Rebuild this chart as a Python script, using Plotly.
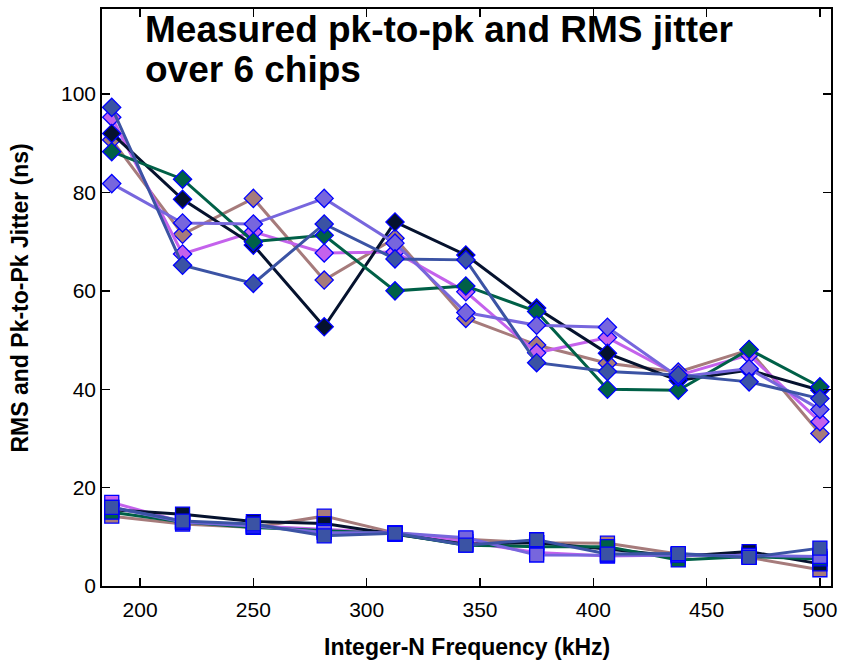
import plotly.graph_objects as go

freq_khz = [187.5, 218.75, 250, 281.25, 312.5, 343.75, 375, 406.25, 437.5, 468.75, 500]

chips = ["chip1", "chip2", "chip3", "chip4", "chip5", "chip6"]
colors = ["#a67b7b", "#c462ec", "#05122e", "#006047", "#7766dd", "#3b53a4"]

pk_chip1 = [90.7, 71.5, 78.8, 62.2, 70.7, 54.4, 49.0, 45.3, 43.5, 48.0, 31.0]
pk_chip2 = [95.3, 67.5, 72.0, 67.7, 67.9, 59.8, 47.4, 50.5, 42.8, 47.0, 33.4]
pk_chip3 = [92.0, 78.6, 69.3, 52.7, 74.0, 67.3, 56.5, 47.3, 41.8, 43.9, 39.8]
pk_chip4 = [88.3, 82.7, 70.0, 71.3, 60.0, 61.0, 55.8, 40.0, 39.8, 48.1, 40.5]
pk_chip5 = [81.8, 73.8, 73.6, 78.8, 69.7, 55.6, 53.0, 52.6, 42.5, 44.2, 35.9]
pk_chip6 = [97.3, 65.2, 61.5, 73.6, 66.5, 66.3, 45.4, 43.6, 42.9, 41.5, 38.1]

rms_chip1 = [14.2, 12.6, 11.9, 14.2, 10.8, 9.5, 8.8, 8.7, 6.5, 5.8, 3.3]
rms_chip2 = [17.0, 13.0, 12.2, 11.5, 10.8, 9.0, 6.8, 6.1, 6.3, 6.5, 5.5]
rms_chip3 = [15.5, 14.6, 13.1, 12.7, 10.5, 8.5, 8.8, 7.5, 6.0, 7.0, 4.5]
rms_chip4 = [15.0, 13.0, 11.9, 11.2, 10.6, 8.3, 8.0, 8.0, 5.3, 6.0, 5.5]
rms_chip5 = [16.0, 13.0, 12.2, 10.9, 10.8, 9.8, 6.3, 6.3, 6.3, 6.2, 6.0]
rms_chip6 = [16.0, 13.2, 12.6, 10.2, 10.7, 8.3, 9.4, 6.5, 6.6, 5.8, 7.7]

pk_all = [pk_chip1, pk_chip2, pk_chip3, pk_chip4, pk_chip5, pk_chip6]
rms_all = [rms_chip1, rms_chip2, rms_chip3, rms_chip4, rms_chip5, rms_chip6]

x_ticks = [200, 250, 300, 350, 400, 450, 500]
y_ticks = [0, 20, 40, 60, 80, 100]

title_lines = ["Measured pk-to-pk and RMS jitter", "over 6 chips"]
x_title = "Integer-N Frequency (kHz)"
y_title = "RMS and Pk-to-Pk Jitter (ns)"

FONT = "Liberation Sans, Arial, sans-serif"

fig = go.Figure()
for name, col, pk, rms in zip(chips, colors, pk_all, rms_all):
    fig.add_trace(go.Scatter(
        x=freq_khz, y=pk, mode="lines+markers", name=name + " pk-pk",
        line=dict(color=col, width=3),
        marker=dict(symbol="diamond", size=14, color=col,
                    line=dict(color="#0000ff", width=1.3)),
        showlegend=False))
    fig.add_trace(go.Scatter(
        x=freq_khz, y=rms, mode="lines+markers", name=name + " rms",
        line=dict(color=col, width=3),
        marker=dict(symbol="square", size=14, color=col,
                    line=dict(color="#0000ff", width=1.3)),
        showlegend=False))

axis_common = dict(
    showline=True, linecolor="black", linewidth=1.8, mirror="ticks",
    ticks="inside", ticklen=8, tickwidth=1.3, tickcolor="black",
    showgrid=False, zeroline=False, automargin=False,
    tickfont=dict(family=FONT, size=21, color="black"),
)

fig.update_xaxes(range=[183.2, 504.9], tickvals=x_ticks, ticklabelstandoff=4, **axis_common)
fig.update_yaxes(range=[0, 117.3], tickvals=y_ticks, **axis_common)

# axis titles
fig.add_annotation(text="<b>" + x_title + "</b>", xref="paper", yref="paper",
                   x=0.5, y=-0.1057, xanchor="center", yanchor="middle",
                   showarrow=False, font=dict(family=FONT, size=23, color="black"))
fig.add_annotation(text="<b>" + y_title + "</b>", xref="paper", yref="paper",
                   x=-0.1125, y=0.5, xanchor="center", yanchor="middle", textangle=-90,
                   showarrow=False, font=dict(family=FONT, size=23, color="black"))

# chart title (two lines, inside plot area)
for line, ypos in zip(title_lines, [0.9653, 0.896]):
    fig.add_annotation(text="<b>" + line + "</b>", xref="paper", yref="paper",
                       x=0.0562, y=ypos, xanchor="left", yanchor="middle",
                       align="left", showarrow=False,
                       font=dict(family=FONT, size=37, color="black"))

fig.update_layout(
    width=854, height=667,
    margin=dict(l=102, r=23, t=9, b=81),
    paper_bgcolor="white", plot_bgcolor="white",
    font=dict(family=FONT),
    hovermode=False,
)

fig.write_html("out.html", config={"displayModeBar": False, "staticPlot": True},
               post_script="document.body.style.margin='0px';")
